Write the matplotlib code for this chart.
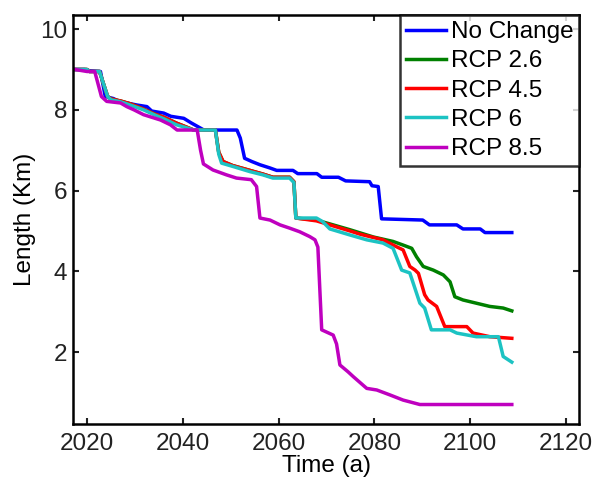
import matplotlib
matplotlib.use("Agg")
import matplotlib.pyplot as plt

plt.rcParams['font.family'] = ['Liberation Sans', 'DejaVu Sans']

labels = ["No Change", "RCP 2.6", "RCP 4.5", "RCP 6", "RCP 8.5"]
colors = ["#0000ff", "#008000", "#ff0000", "#1cc3c3", "#bf00bf"]

nochange_t = [2017.5, 2019.5, 2020.5, 2022.8, 2023.8, 2025.5, 2026.5, 2028.3, 2030.4, 2032.5, 2033.5,
              2036.0, 2037.5, 2040.2, 2041.7, 2042.9, 2044.4, 2051.3, 2052.0, 2052.9, 2054.4, 2056.1,
              2058.2, 2059.6, 2063.0, 2064.0, 2068.0, 2069.0, 2072.5, 2074.0, 2079.0, 2079.5, 2080.8,
              2081.5, 2090.1, 2091.5, 2097.2, 2098.5, 2102.1, 2103.1, 2108.7]
nochange_v = [9.0, 9.0, 8.97, 8.95, 8.33, 8.28, 8.22, 8.17, 8.12, 8.08, 7.97,
              7.92, 7.84, 7.79, 7.68, 7.60, 7.50, 7.50, 7.30, 6.80, 6.72, 6.64,
              6.56, 6.50, 6.50, 6.42, 6.42, 6.33, 6.33, 6.24, 6.22, 6.12, 6.10,
              5.30, 5.27, 5.15, 5.15, 5.05, 5.05, 4.96, 4.96]

rcp26_t = [2017.5, 2020.0, 2020.5, 2022.6, 2024.3, 2025.0, 2027.0, 2029.0, 2031.8, 2034.0, 2036.0,
           2038.7, 2042.3, 2046.8, 2047.5, 2048.4, 2050.4, 2054.0, 2056.7, 2058.8, 2062.3, 2063.2,
           2063.6, 2067.9, 2071.4, 2074.9, 2079.8, 2083.9, 2086.0, 2087.8, 2088.8, 2090.2, 2092.3,
           2094.4, 2095.8, 2096.8, 2098.5, 2101.3, 2104.1, 2106.9, 2108.7]
rcp26_v = [9.0, 9.0, 8.95, 8.95, 8.33, 8.27, 8.22, 8.15, 8.02, 7.90, 7.82,
           7.67, 7.50, 7.50, 6.95, 6.72, 6.62, 6.50, 6.41, 6.33, 6.33, 6.22,
           5.32, 5.27, 5.15, 5.03, 4.85, 4.74, 4.65, 4.57, 4.36, 4.12, 4.03,
           3.91, 3.74, 3.37, 3.29, 3.21, 3.13, 3.09, 3.02]

rcp45_t = [2017.5, 2020.0, 2020.5, 2022.6, 2024.3, 2025.0, 2027.0, 2029.0, 2031.8, 2034.0, 2036.0,
           2038.7, 2042.3, 2046.8, 2047.5, 2048.4, 2050.4, 2054.0, 2056.7, 2058.8, 2062.3, 2063.2,
           2063.6, 2067.9, 2070.7, 2074.9, 2077.0, 2081.8, 2084.6, 2086.0, 2087.4, 2088.5, 2089.2,
           2090.5, 2091.2, 2093.0, 2094.7, 2099.3, 2100.6, 2104.1, 2108.7]
rcp45_v = [9.0, 9.0, 8.95, 8.95, 8.33, 8.27, 8.22, 8.15, 8.02, 7.90, 7.82,
           7.67, 7.50, 7.50, 6.95, 6.72, 6.62, 6.50, 6.41, 6.33, 6.33, 6.22,
           5.32, 5.25, 5.15, 5.00, 4.92, 4.78, 4.61, 4.53, 4.12, 4.03, 3.95,
           3.42, 3.29, 3.13, 2.63, 2.63, 2.47, 2.38, 2.34]

rcp6_t = [2017.5, 2020.0, 2020.5, 2022.6, 2024.3, 2025.0, 2027.0, 2029.0, 2031.8, 2034.0, 2036.0,
          2038.7, 2042.3, 2046.8, 2047.5, 2048.1, 2050.4, 2054.0, 2056.7, 2058.8, 2062.3, 2063.2,
          2063.6, 2067.9, 2069.2, 2070.7, 2074.9, 2078.4, 2081.8, 2083.9, 2085.7, 2087.4, 2089.5,
          2090.5, 2091.9, 2095.8, 2097.2, 2101.3, 2105.9, 2106.9, 2108.7]
rcp6_v = [9.0, 9.0, 8.95, 8.95, 8.33, 8.25, 8.20, 8.12, 8.00, 7.88, 7.78,
          7.63, 7.50, 7.50, 6.90, 6.68, 6.60, 6.47, 6.39, 6.31, 6.31, 6.20,
          5.32, 5.32, 5.23, 5.05, 4.90, 4.78, 4.70, 4.57, 4.03, 3.96, 3.21,
          3.09, 2.55, 2.55, 2.47, 2.38, 2.38, 1.89, 1.75]

rcp85_t = [2017.5, 2020.0, 2021.6, 2023.0, 2024.1, 2027.0, 2028.3, 2029.8, 2031.8, 2035.3, 2037.4,
           2038.8, 2043.0, 2043.7, 2044.3, 2046.3, 2049.1, 2051.2, 2054.3, 2055.4, 2056.1, 2058.2,
           2060.3, 2062.3, 2064.4, 2066.5, 2067.6, 2068.2, 2069.0, 2071.4, 2072.1, 2072.8, 2074.5,
           2075.6, 2078.4, 2080.5, 2083.2, 2086.0, 2089.5, 2108.7]
rcp85_v = [9.0, 8.95, 8.95, 8.33, 8.21, 8.17, 8.08, 8.00, 7.88, 7.75, 7.63,
           7.50, 7.50, 7.00, 6.66, 6.51, 6.39, 6.31, 6.27, 6.10, 5.32, 5.27,
           5.15, 5.07, 4.98, 4.86, 4.78, 4.60, 2.55, 2.42, 2.20, 1.68, 1.51,
           1.39, 1.10, 1.06, 0.94, 0.81, 0.70, 0.70]

series_t = [nochange_t, rcp26_t, rcp45_t, rcp6_t, rcp85_t]
series_v = [nochange_v, rcp26_v, rcp45_v, rcp6_v, rcp85_v]

xticks = [2020, 2040, 2060, 2080, 2100, 2120]
yticks = [2, 4, 6, 8, 10]

FS = 17.5

fig = plt.figure(figsize=(5.92, 4.79), dpi=100)
ax = fig.add_axes([0.1228, 0.1142, 0.8558, 0.8545])

for t, v, c, lab in zip(series_t, series_v, colors, labels):
    ax.plot(t, v, color=c, lw=2.5, label=lab, solid_joinstyle='round')

ax.set_xlim(2017.0, 2122.8)
ax.set_ylim(0.21, 10.35)
ax.set_xticks(xticks)
ax.set_yticks(yticks)
ax.tick_params(direction='in', top=True, right=True, length=4, width=1.5,
               labelsize=FS, colors='#222222')
ax.tick_params(axis='x', pad=6)
ax.tick_params(axis='y', pad=4)
for s in ax.spines.values():
    s.set_linewidth(1.8)
ax.set_xlabel("Time (a)", fontsize=FS, labelpad=0)
ax.set_ylabel("Length (Km)", fontsize=FS, labelpad=3)

leg = ax.legend(loc='upper right', fontsize=FS, frameon=True, fancybox=False,
                borderaxespad=0, borderpad=0.25, handlelength=1.65, handletextpad=0.2,
                labelspacing=0.3, edgecolor='black')
leg.get_frame().set_linewidth(1.8)
for h in leg.get_lines():
    h.set_linewidth(2.5)

fig.savefig("out.png", dpi=100)
